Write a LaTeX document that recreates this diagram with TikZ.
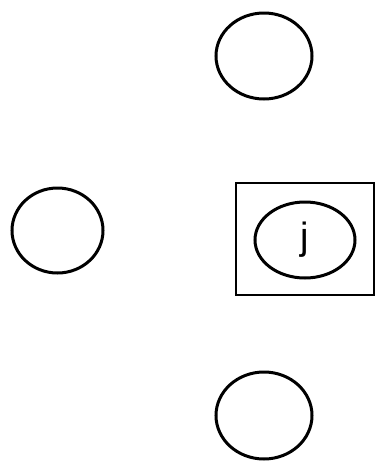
\documentclass[tikz,border=0pt]{standalone}
\usepackage{fontspec}
\setsansfont{Liberation Sans}
\usetikzlibrary{shapes.geometric}

\begin{document}
\begin{tikzpicture}[x=1pt,y=-1pt,
  site/.style={draw,ellipse,line width=3pt,inner sep=0pt},
  cell/.style={draw,rectangle,line width=2.6pt,inner sep=0pt}]
\useasboundingbox (0,0) rectangle (381,469);
\node[site,minimum width=96pt,minimum height=86pt] (top) at (264,56) {};
\node[site,minimum width=91pt,minimum height=85pt] (left) at (57.5,230.5) {};
\node[cell,minimum width=138pt,minimum height=112pt] (box) at (305,239) {};
\node[site,minimum width=100pt,minimum height=76pt,font=\sffamily\fontsize{38}{38}\selectfont] (j) at (305,240) {j};
\node[site,minimum width=96pt,minimum height=87pt] (bottom) at (264,415.5) {};
\end{tikzpicture}
\end{document}
